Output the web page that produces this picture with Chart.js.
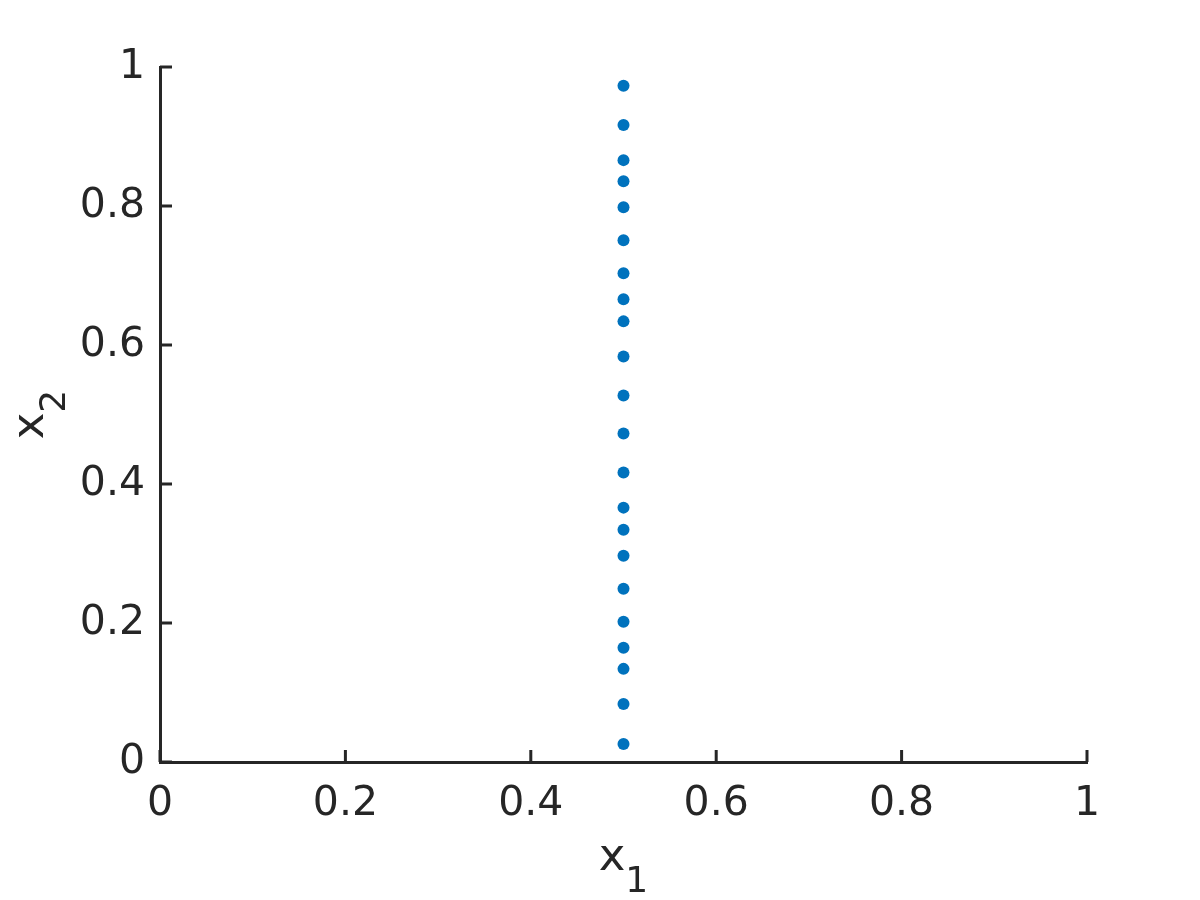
<!DOCTYPE html>
<html>
<head>
<meta charset="utf-8">
<script src="https://cdn.jsdelivr.net/npm/chart.js@4"></script>
<style>
  html, body { margin: 0; padding: 0; background: #fff; }
  #wrap { width: 1200px; height: 900px; }
</style>
</head>
<body>
<div id="wrap"><canvas id="chart" width="1200" height="900"></canvas></div>
<script>
// sample points
const x1Values = [0.5, 0.5, 0.5, 0.5, 0.5, 0.5, 0.5, 0.5, 0.5, 0.5, 0.5,
                  0.5, 0.5, 0.5, 0.5, 0.5, 0.5, 0.5, 0.5, 0.5, 0.5, 0.5];
const x2Values = [0.026, 0.0836, 0.134, 0.1643, 0.2017, 0.2493, 0.2968, 0.3343, 0.366, 0.4164, 0.4726,
                  0.5274, 0.5836, 0.634, 0.6657, 0.7032, 0.7507, 0.7983, 0.8357, 0.866, 0.9164, 0.973];

const tickValues = [0, 0.2, 0.4, 0.6, 0.8, 1];
const tickLabels = ['0', '0.2', '0.4', '0.6', '0.8', '1'];
const xTitle = ['x', '1'];   // base, subscript
const yTitle = ['x', '2'];

const ink = '#262626';
const font = 'DejaVu Sans';

// matlab style: ticks pointing into the axes, subscripted axis labels
const matlabAxes = {
    id: 'matlabAxes',
    afterDraw(chart) {
        const ctx = chart.ctx;
        const area = chart.chartArea;
        const xs = chart.scales.x, ys = chart.scales.y;
        const len = 12;
        ctx.save();
        ctx.strokeStyle = ink;
        ctx.lineWidth = 3;
        ctx.beginPath();
        xs.ticks.forEach(t => {
            const px = xs.getPixelForValue(t.value);
            ctx.moveTo(px, area.bottom);
            ctx.lineTo(px, area.bottom - len);
        });
        ys.ticks.forEach(t => {
            const py = ys.getPixelForValue(t.value);
            ctx.moveTo(area.left, py);
            ctx.lineTo(area.left + len, py);
        });
        ctx.stroke();

        ctx.fillStyle = ink;
        ctx.textBaseline = 'alphabetic';
        ctx.textAlign = 'left';
        const big = '45px "' + font + '"', small = '36px "' + font + '"';

        // x title
        ctx.font = big;
        const wx = ctx.measureText(xTitle[0]).width;
        ctx.font = small;
        const ws = ctx.measureText(xTitle[1]).width;
        let x0 = (area.left + area.right) / 2 - (wx + ws) / 2;
        const base = area.bottom + 108;
        ctx.font = big;
        ctx.fillText(xTitle[0], x0, base);
        ctx.font = small;
        ctx.fillText(xTitle[1], x0 + wx, base + 22);

        // y title, rotated
        ctx.translate(area.left - 117, (area.top + area.bottom) / 2);
        ctx.rotate(-Math.PI / 2);
        ctx.font = big;
        const wy = ctx.measureText(yTitle[0]).width;
        ctx.font = small;
        const wy2 = ctx.measureText(yTitle[1]).width;
        x0 = -(wy + wy2) / 2;
        ctx.font = big;
        ctx.fillText(yTitle[0], x0, 0);
        ctx.font = small;
        ctx.fillText(yTitle[1], x0 + wy, 22);
        ctx.restore();
    }
};

const axisCommon = {
    type: 'linear',
    min: 0,
    max: 1,
    afterBuildTicks: scale => { scale.ticks = tickValues.map(v => ({ value: v })); },
    grid: { drawOnChartArea: false, drawTicks: false },
    border: { display: true, color: ink, width: 3 },
    ticks: {
        color: ink,
        font: { family: font, size: 41 },
        autoSkip: false,
        maxRotation: 0,
        callback: (v, i) => tickLabels[i]
    }
};

new Chart(document.getElementById('chart'), {
    type: 'scatter',
    data: {
        datasets: [{
            data: x1Values.map((v, i) => ({ x: v, y: x2Values[i] })),
            backgroundColor: '#0072BD',
            borderColor: '#0072BD',
            pointRadius: 6,
            pointHoverRadius: 6,
            borderWidth: 0
        }]
    },
    options: {
        responsive: false,
        animation: false,
        layout: { padding: { top: 67, right: 113, left: 0, bottom: 0 } },
        plugins: { legend: { display: false }, tooltip: { enabled: false } },
        scales: {
            x: Object.assign({}, axisCommon, {
                position: 'bottom',
                ticks: Object.assign({}, axisCommon.ticks, { padding: 18 }),
                afterFit: scale => { scale.height = 138; }
            }),
            y: Object.assign({}, axisCommon, {
                position: 'left',
                ticks: Object.assign({}, axisCommon.ticks, { padding: 15 }),
                afterFit: scale => { scale.width = 160; }
            })
        }
    },
    plugins: [matlabAxes]
});
</script>
</body>
</html>
